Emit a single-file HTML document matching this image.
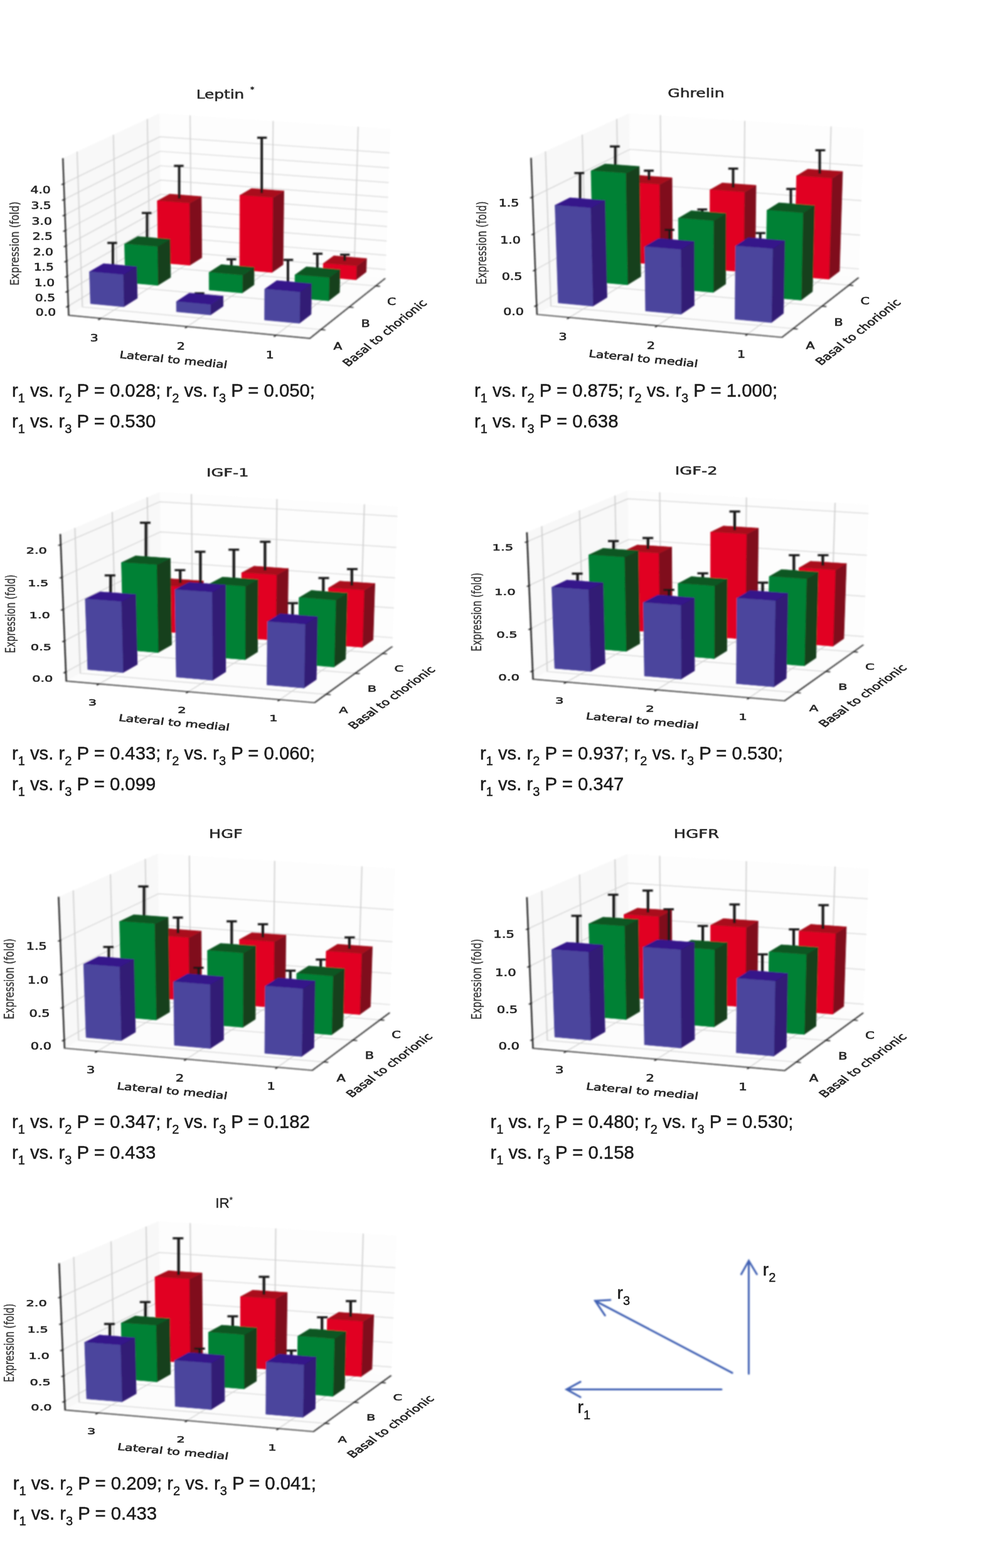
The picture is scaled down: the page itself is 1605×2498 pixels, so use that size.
<!DOCTYPE html>
<html lang="en">
<head>
<meta charset="utf-8">
<title>Placental gene expression figure</title>
<style>
html,body{margin:0;padding:0;background:#fff;}
body{width:1605px;height:2498px;overflow:hidden;position:relative;font-family:"Liberation Sans",sans-serif;}
svg{position:absolute;left:0;top:0;display:block;}
.pane polygon{stroke:none;}
.grid polyline{fill:none;stroke:#d2d2d2;stroke-width:1.2;}
.axis polyline{fill:none;stroke:#262626;stroke-width:1.5;}
.tick polyline{stroke-width:1.6;}
.bars polygon{stroke-width:0.6;stroke-linejoin:round;}
.err path{fill:none;stroke:#141414;stroke-width:2.5;}
.err path.c{stroke-width:3.3;}
.txt text{font-family:"DejaVu Sans","Liberation Sans",sans-serif;fill:#262626;stroke:#262626;stroke-width:0.62;text-anchor:middle;}
.cap text{font-family:"Liberation Sans",sans-serif;fill:#1a1a1a;}
.arrow path{fill:none;stroke:#4262b4;stroke-width:3;stroke-linecap:round;stroke-linejoin:miter;}
.txt text.ttl{stroke-width:0.5;fill:#262626;stroke:#262626;}
.txt text.ttlp{font-family:"Liberation Sans",sans-serif;stroke-width:0.3;text-anchor:start;fill:#222;stroke:#222;}
.cap text{stroke:#1a1a1a;stroke-width:0.45;}
.txt text.zl{fill:#3a3a3a;stroke:#3a3a3a;stroke-width:0.3;}

</style>
</head>
<body>
<svg width="1605" height="2498" viewBox="0 0 1605 2498">
<defs><filter id="soft" x="-5%" y="-5%" width="110%" height="110%"><feGaussianBlur stdDeviation="0.9"/></filter><filter id="softa" x="-5%" y="-5%" width="110%" height="110%"><feGaussianBlur stdDeviation="0.8"/></filter><filter id="softt" x="-5%" y="-5%" width="110%" height="110%"><feGaussianBlur stdDeviation="0.7"/></filter></defs>
<rect width="1605" height="2498" fill="#fff"/>
<!-- leptin -->
<g filter="url(#soft)"><g transform="translate(368.8 0) scale(1.5409 1)">
<g class="pane">
<polygon fill="#f8f8f8" points="-168.3,502.3 -72,412.5 -74.4,180.6 -174.3,252.1"/>
<polygon fill="#fdfdfd" points="-72,412.5 159.2,443.4 164.6,205.2 -74.4,180.6"/>
<polygon fill="#fcfcfc" points="-168.3,502.3 81.1,539.1 159.2,443.4 -72,412.5"/>
</g>
<g class="grid">
<polyline points="46.1,533.9 126.9,439.1 131.1,201.7"/>
<polyline points="-45.6,520.4 41.8,427.8 43.2,192.7"/>
<polyline points="-135.2,507.2 -41.3,416.6 -42.7,183.8"/>
<polyline points="92.6,525 -154.1,489.1 -159.6,241.6"/>
<polyline points="121.9,489.2 -118.1,455.5 -122.1,214.8"/>
<polyline points="149.4,455.5 -84.2,423.9 -87,189.6"/>
<polyline points="-168.6,487.5 -72.2,398.8 159.5,429.3"/>
<polyline points="-169.2,463.7 -72.4,376.6 160.1,406.6"/>
<polyline points="-169.8,439.7 -72.6,354.4 160.6,383.8"/>
<polyline points="-170.4,415.6 -72.9,332 161.1,360.8"/>
<polyline points="-170.9,391.3 -73.1,309.5 161.6,337.6"/>
<polyline points="-171.5,366.9 -73.3,286.8 162.1,314.4"/>
<polyline points="-172.1,342.3 -73.5,264 162.7,290.9"/>
<polyline points="-172.7,317.5 -73.8,241 163.2,267.3"/>
<polyline points="-173.3,292.5 -74,217.9 163.7,243.6"/>
</g>
</g></g>
<g filter="url(#softa)"><g transform="translate(368.8 0) scale(1.5409 1)">
<g class="axis">
<polyline points="-174.3,252.1 -168.3,502.3 81.1,539.1 159.2,443.4"/>
<g class="tick">
<polyline points="46.5,533.5 44,536.4"/>
<polyline points="-45.3,520 -47.9,522.8"/>
<polyline points="-134.8,506.8 -137.7,509.6"/>
<polyline points="91.8,524.9 97.2,525.7"/>
<polyline points="121.1,489.1 126.3,489.8"/>
<polyline points="148.6,455.4 153.7,456.1"/>
<polyline points="-167.8,486.7 -170.9,489.6"/>
<polyline points="-168.4,462.9 -171.5,465.8"/>
<polyline points="-168.9,439 -172.1,441.8"/>
<polyline points="-169.5,414.9 -172.7,417.6"/>
<polyline points="-170.1,390.6 -173.3,393.3"/>
<polyline points="-170.7,366.2 -173.9,368.8"/>
<polyline points="-171.3,341.6 -174.5,344.1"/>
<polyline points="-171.9,316.8 -175.1,319.3"/>
<polyline points="-172.5,291.8 -175.7,294.3"/>
</g></g>
</g></g>
<g filter="url(#soft)"><g transform="translate(368.8 0) scale(1.5409 1)">
<g class="bars">
<polygon fill="#800c1c" stroke="#800c1c" points="-43,422.5 -30.6,410.6 -31.1,313.2 -43.6,324.1"/><polygon fill="#a90f1e" stroke="#a90f1e" points="-76.6,320.1 -43.6,324.1 -31.1,313.2 -63.8,309.2"/><polygon fill="#e10421" stroke="#e10421" points="-75.6,418.2 -43,422.5 -43.6,324.1 -76.6,320.1"/>
<polygon fill="#800c1c" stroke="#800c1c" points="42,434 53.4,421.7 54.3,304.2 42.7,315.2"/><polygon fill="#a90f1e" stroke="#a90f1e" points="8.8,311.2 42.7,315.2 54.3,304.2 20.8,300.3"/><polygon fill="#e10421" stroke="#e10421" points="8.6,429.5 42,434 42.7,315.2 8.8,311.2"/>
<polygon fill="#800c1c" stroke="#800c1c" points="128.9,445.7 139.4,433.2 139.8,411.9 129.3,424.2"/><polygon fill="#a90f1e" stroke="#a90f1e" points="95.1,419.7 129.3,424.2 139.8,411.9 106,407.5"/><polygon fill="#e10421" stroke="#e10421" points="94.8,441.1 128.9,445.7 129.3,424.2 95.1,419.7"/>
<g class="err"><path d="M-54 316.4V263.8"/><path class="c" d="M-59.4 264.2h10"/><path d="M31.4 307.5V219"/><path class="c" d="M26.7 219.4h10"/><path d="M117.2 415.6V405.4"/><path class="c" d="M112.4 405.8h10"/><path d="M-87.2 384.7V338.9"/><path class="c" d="M-92.7 339.3h10"/><path d="M0 429.8V412.7"/><path class="c" d="M-5 413.1h10"/><path d="M88.9 433.6V403.8"/><path class="c" d="M84.3 404.2h10"/><path d="M-122.6 428.6V386.6"/><path class="c" d="M-128.3 387h10"/><path d="M-32.9 475.9V466.9"/><path class="c" d="M-38 467.3h10"/><path d="M58.5 456V413.6"/><path class="c" d="M53.9 414h10"/></g>
<polygon fill="#143f1b" stroke="#143f1b" points="-76.1,454.6 -62.9,441.9 -63.5,381.2 -76.7,393.2"/><polygon fill="#0c5724" stroke="#0c5724" points="-110.5,388.8 -76.7,393.2 -63.5,381.2 -96.9,376.8"/><polygon fill="#068135" stroke="#068135" points="-109.6,449.9 -76.1,454.6 -76.7,393.2 -110.5,388.8"/>
<polygon fill="#143f1b" stroke="#143f1b" points="11.2,466.7 23.4,453.7 23.5,426 11.3,438.8"/><polygon fill="#0c5724" stroke="#0c5724" points="-23.1,434.1 11.3,438.8 23.5,426 -10.5,421.5"/><polygon fill="#068135" stroke="#068135" points="-23,462 11.2,466.7 11.3,438.8 -23.1,434.1"/>
<polygon fill="#143f1b" stroke="#143f1b" points="100.6,479.2 111.8,465.9 112.4,429.7 101.1,442.6"/><polygon fill="#0c5724" stroke="#0c5724" points="65.8,437.9 101.1,442.6 112.4,429.7 77.5,425.1"/><polygon fill="#068135" stroke="#068135" points="65.5,474.3 100.6,479.2 101.1,442.6 65.8,437.9"/>
<polygon fill="#321a75" stroke="#321a75" points="-111.3,488.7 -97.3,475.1 -98,424.8 -112.1,437.8"/><polygon fill="#34158a" stroke="#34158a" points="-146.8,433 -112.1,437.8 -98,424.8 -132.3,420.1"/><polygon fill="#4b459d" stroke="#4b459d" points="-145.7,483.7 -111.3,488.7 -112.1,437.8 -146.8,433"/>
<polygon fill="#321a75" stroke="#321a75" points="-21.6,501.7 -8.5,487.8 -8.6,471.8 -21.6,485.5"/><polygon fill="#34158a" stroke="#34158a" points="-56.9,480.5 -21.6,485.5 -8.6,471.8 -43.5,466.9"/><polygon fill="#4b459d" stroke="#4b459d" points="-56.8,496.6 -21.6,501.7 -21.6,485.5 -56.9,480.5"/>
<polygon fill="#321a75" stroke="#321a75" points="70.4,515 82.4,500.7 82.9,451.9 70.9,465.6"/><polygon fill="#34158a" stroke="#34158a" points="34.5,460.6 70.9,465.6 82.9,451.9 47,447"/><polygon fill="#4b459d" stroke="#4b459d" points="34.3,509.8 70.4,515 70.9,465.6 34.5,460.6"/>
</g>
</g></g>
<g class="txt" filter="url(#softt)">
<text transform="translate(430.1 565.4) scale(1.276 1)" y="5.8" font-size="15.9">1</text>
<text transform="translate(288.4 551.5) scale(1.276 1)" y="5.8" font-size="15.9">2</text>
<text transform="translate(150.1 537.8) scale(1.276 1)" y="5.8" font-size="15.9">3</text>
<text transform="translate(538.4 551.4) scale(1.276 1)" y="5.8" font-size="15.9">A</text>
<text transform="translate(582.7 514.7) scale(1.276 1)" y="5.8" font-size="15.9">B</text>
<text transform="translate(624.1 480.3) scale(1.276 1)" y="5.8" font-size="15.9">C</text>
<text transform="translate(72.9 497.6) scale(1.276 1)" y="5.8" font-size="15.9">0.0</text>
<text transform="translate(71.9 473.7) scale(1.276 1)" y="5.8" font-size="15.9">0.5</text>
<text transform="translate(70.9 449.7) scale(1.276 1)" y="5.8" font-size="15.9">1.0</text>
<text transform="translate(69.8 425.5) scale(1.276 1)" y="5.8" font-size="15.9">1.5</text>
<text transform="translate(68.8 401.1) scale(1.276 1)" y="5.8" font-size="15.9">2.0</text>
<text transform="translate(67.8 376.6) scale(1.276 1)" y="5.8" font-size="15.9">2.5</text>
<text transform="translate(66.7 351.9) scale(1.276 1)" y="5.8" font-size="15.9">3.0</text>
<text transform="translate(65.6 327) scale(1.276 1)" y="5.8" font-size="15.9">3.5</text>
<text transform="translate(64.6 301.9) scale(1.276 1)" y="5.8" font-size="15.9">4.0</text>
<text transform="translate(276.6 572.7) scale(1.276 1) rotate(7)" y="5.8" font-size="15.9">Lateral to medial</text>
<text transform="translate(612.9 530.2) scale(1.276 1) rotate(-45.4)" y="5.8" font-size="15.9">Basal to chorionic</text>
<text transform="translate(22.8 387.9) scale(1.276 1) rotate(-90)" y="5.8" font-size="15.9" class="zl">Expression (fold)</text>
<text transform="translate(351 157.2) scale(1.276 1)" y="0" font-size="19.4" class="ttl">Leptin</text>
<text transform="translate(402.1 146.2) scale(1.276 1)" y="0" font-size="9.7" class="ttl">*</text>
</g>
<!-- ghrelin -->
<g filter="url(#soft)"><g transform="translate(1119.3 0) scale(1.5719 1)">
<g class="pane">
<polygon fill="#f8f8f8" points="-167.6,500.9 -71.8,411.4 -74.1,180.4 -173.6,251.6"/>
<polygon fill="#fdfdfd" points="-71.8,411.4 158.6,442.2 164,204.9 -74.1,180.4"/>
<polygon fill="#fcfcfc" points="-167.6,500.9 80.8,537.5 158.6,442.2 -71.8,411.4"/>
</g>
<g class="grid">
<polyline points="45.9,532.4 126.4,437.9 130.6,201.4"/>
<polyline points="-45.5,518.9 41.7,426.6 43.1,192.4"/>
<polyline points="-134.7,505.7 -41.1,415.5 -42.5,183.6"/>
<polyline points="92.2,523.5 -153.5,487.7 -159,241.2"/>
<polyline points="121.4,487.8 -117.6,454.2 -121.7,214.4"/>
<polyline points="148.8,454.3 -83.9,422.8 -86.7,189.4"/>
<polyline points="-168,486.5 -71.9,398.1 158.9,428.5"/>
<polyline points="-169.3,429.9 -72.4,345.5 160.1,374.6"/>
<polyline points="-170.7,372.4 -73,292.1 161.4,319.7"/>
<polyline points="-172.1,313.9 -73.5,238 162.6,264.1"/>
</g>
</g></g>
<g filter="url(#softa)"><g transform="translate(1119.3 0) scale(1.5719 1)">
<g class="axis">
<polyline points="-173.6,251.6 -167.6,500.9 80.8,537.5 158.6,442.2"/>
<g class="tick">
<polyline points="46.3,532 43.8,534.8"/>
<polyline points="-45.1,518.5 -47.8,521.3"/>
<polyline points="-134.3,505.3 -137.1,508.1"/>
<polyline points="91.5,523.4 96.8,524.2"/>
<polyline points="120.7,487.7 125.9,488.4"/>
<polyline points="148.1,454.2 153.1,454.9"/>
<polyline points="-167.1,485.7 -170.3,488.6"/>
<polyline points="-168.5,429.2 -171.6,431.9"/>
<polyline points="-169.9,371.7 -173.1,374.3"/>
<polyline points="-171.3,313.2 -174.5,315.7"/>
</g></g>
</g></g>
<g filter="url(#soft)"><g transform="translate(1119.3 0) scale(1.5719 1)">
<g class="bars">
<polygon fill="#800c1c" stroke="#800c1c" points="-42.8,421.8 -30.2,409.6 -30.7,283.3 -43.6,294.2"/><polygon fill="#a90f1e" stroke="#a90f1e" points="-77.5,290.2 -43.6,294.2 -30.7,283.3 -64.3,279.4"/><polygon fill="#e10421" stroke="#e10421" points="-76.1,417.3 -42.8,421.8 -43.6,294.2 -77.5,290.2"/>
<polygon fill="#800c1c" stroke="#800c1c" points="41.8,433.2 53.5,420.7 54.5,295.3 42.6,306.5"/><polygon fill="#a90f1e" stroke="#a90f1e" points="7.9,302.4 42.6,306.5 54.5,295.3 20.2,291.4"/><polygon fill="#e10421" stroke="#e10421" points="7.7,428.6 41.8,433.2 42.6,306.5 7.9,302.4"/>
<polygon fill="#800c1c" stroke="#800c1c" points="128.4,444.8 139.1,432 142.3,273.3 131.3,284.4"/><polygon fill="#a90f1e" stroke="#a90f1e" points="95.6,280.3 131.3,284.4 142.3,273.3 107,269.4"/><polygon fill="#e10421" stroke="#e10421" points="93.5,440.1 128.4,444.8 131.3,284.4 95.6,280.3"/>
<g class="err"><path d="M-54 286.8V271.5"/><path class="c" d="M-59.2 271.9h10"/><path d="M31.3 298.9V268.2"/><path class="c" d="M26.4 268.6h10"/><path d="M119.1 276.8V239"/><path class="c" d="M114.7 239.4h10"/><path d="M-88.2 268.7V232.9"/><path class="c" d="M-93.7 233.3h10"/><path d="M0 343.9V333.3"/><path class="c" d="M-5 333.7h10"/><path d="M89.8 331.3V300.6"/><path class="c" d="M85.2 301h10"/><path d="M-123.9 323.3V275.3"/><path class="c" d="M-129.7 275.7h10"/><path d="M-33.2 388.8V365.8"/><path class="c" d="M-38.3 366.2h10"/><path d="M58.8 387.6V370.9"/><path class="c" d="M54 371.3h10"/></g>
<polygon fill="#143f1b" stroke="#143f1b" points="-75.8,453.7 -62.4,440.7 -63.9,265.2 -77.7,276.3"/><polygon fill="#0c5724" stroke="#0c5724" points="-112.8,272.2 -77.7,276.3 -63.9,265.2 -98.6,261.2"/><polygon fill="#068135" stroke="#068135" points="-110,448.9 -75.8,453.7 -77.7,276.3 -112.8,272.2"/>
<polygon fill="#143f1b" stroke="#143f1b" points="11.2,465.8 23.7,452.5 24,340.1 11.4,352.1"/><polygon fill="#0c5724" stroke="#0c5724" points="-24.2,347.7 11.4,352.1 24,340.1 -11.2,335.7"/><polygon fill="#068135" stroke="#068135" points="-23.8,460.9 11.2,465.8 11.4,352.1 -24.2,347.7"/>
<polygon fill="#143f1b" stroke="#143f1b" points="100.2,478.2 111.7,464.6 113.8,327.5 102.1,339.5"/><polygon fill="#0c5724" stroke="#0c5724" points="65.6,335.1 102.1,339.5 113.8,327.5 77.7,323.1"/><polygon fill="#068135" stroke="#068135" points="64.3,473.2 100.2,478.2 102.1,339.5 65.6,335.1"/>
<polygon fill="#321a75" stroke="#321a75" points="-110.9,487.7 -96.6,473.8 -98.7,319.4 -113.4,331.5"/><polygon fill="#34158a" stroke="#34158a" points="-149.3,327.1 -113.4,331.5 -98.7,319.4 -134.2,315.1"/><polygon fill="#4b459d" stroke="#4b459d" points="-146,482.6 -110.9,487.7 -113.4,331.5 -149.3,327.1"/>
<polygon fill="#321a75" stroke="#321a75" points="-21.5,500.6 -8.2,486.4 -8.3,384.6 -21.8,397.7"/><polygon fill="#34158a" stroke="#34158a" points="-58.3,392.9 -21.8,397.7 -8.3,384.6 -44.4,380"/><polygon fill="#4b459d" stroke="#4b459d" points="-57.5,495.4 -21.5,500.6 -21.8,397.7 -58.3,392.9"/>
<polygon fill="#321a75" stroke="#321a75" points="70.1,513.9 82.3,499.3 83.7,383.4 71.3,396.6"/><polygon fill="#34158a" stroke="#34158a" points="33.8,391.8 71.3,396.6 83.7,383.4 46.7,378.7"/><polygon fill="#4b459d" stroke="#4b459d" points="33.2,508.5 70.1,513.9 71.3,396.6 33.8,391.8"/>
</g>
</g></g>
<g class="txt" filter="url(#softt)">
<text transform="translate(1181.5 563.7) scale(1.302 1)" y="5.8" font-size="15.8">1</text>
<text transform="translate(1037.6 549.8) scale(1.302 1)" y="5.8" font-size="15.8">2</text>
<text transform="translate(897 536.2) scale(1.302 1)" y="5.8" font-size="15.8">3</text>
<text transform="translate(1291.6 549.7) scale(1.302 1)" y="5.8" font-size="15.8">A</text>
<text transform="translate(1336.6 513.2) scale(1.302 1)" y="5.8" font-size="15.8">B</text>
<text transform="translate(1378.7 478.9) scale(1.302 1)" y="5.8" font-size="15.8">C</text>
<text transform="translate(818.6 496.6) scale(1.302 1)" y="5.8" font-size="15.8">0.0</text>
<text transform="translate(816.1 439.8) scale(1.302 1)" y="5.8" font-size="15.8">0.5</text>
<text transform="translate(813.6 382.1) scale(1.302 1)" y="5.8" font-size="15.8">1.0</text>
<text transform="translate(811.1 323.4) scale(1.302 1)" y="5.8" font-size="15.8">1.5</text>
<text transform="translate(1025.6 571) scale(1.302 1) rotate(7)" y="5.8" font-size="15.8">Lateral to medial</text>
<text transform="translate(1367.3 528.7) scale(1.302 1) rotate(-45.4)" y="5.8" font-size="15.8">Basal to chorionic</text>
<text transform="translate(767.7 386.9) scale(1.302 1) rotate(-90)" y="5.8" font-size="15.8" class="zl">Expression (fold)</text>
<text transform="translate(1109.4 154.5) scale(1.302 1)" y="0" font-size="19.3" class="ttl">Ghrelin</text>
</g>
<!-- igf1 -->
<g filter="url(#soft)"><g transform="translate(372.7 0) scale(1.6958 1)">
<g class="pane">
<polygon fill="#f8f8f8" points="-157.5,1085 -67.4,1000.9 -69.6,783.8 -163.1,850.8"/>
<polygon fill="#fdfdfd" points="-67.4,1000.9 149,1029.9 154.1,806.8 -69.6,783.8"/>
<polygon fill="#fcfcfc" points="-157.5,1085 75.9,1119.4 149,1029.9 -67.4,1000.9"/>
</g>
<g class="grid">
<polyline points="43.2,1114.6 118.7,1025.8 122.7,803.6"/>
<polyline points="-42.7,1101.9 39.2,1015.2 40.5,795.1"/>
<polyline points="-126.6,1089.5 -38.7,1004.8 -39.9,786.9"/>
<polyline points="86.7,1106.2 -144.3,1072.6 -149.4,840.9"/>
<polyline points="114.1,1072.6 -110.5,1041.1 -114.3,815.8"/>
<polyline points="139.8,1041.2 -78.8,1011.6 -81.4,792.3"/>
<polyline points="-157.8,1070.4 -67.6,987.4 149.3,1016"/>
<polyline points="-159,1020.8 -68,941.3 150.4,968.7"/>
<polyline points="-160.3,970.5 -68.5,894.6 151.5,920.7"/>
<polyline points="-161.5,919.4 -69,847.3 152.6,872.1"/>
<polyline points="-162.7,867.5 -69.5,799.3 153.7,822.7"/>
</g>
</g></g>
<g filter="url(#softa)"><g transform="translate(372.7 0) scale(1.6958 1)">
<g class="axis">
<polyline points="-163.1,850.8 -157.5,1085 75.9,1119.4 149,1029.9"/>
<g class="tick">
<polyline points="43.5,1114.2 41.2,1116.9"/>
<polyline points="-42.4,1101.5 -44.9,1104.2"/>
<polyline points="-126.2,1089.1 -128.9,1091.7"/>
<polyline points="86,1106.1 91,1106.8"/>
<polyline points="113.4,1072.6 118.3,1073.2"/>
<polyline points="139.1,1041.1 143.9,1041.7"/>
<polyline points="-157.1,1069.7 -160,1072.4"/>
<polyline points="-158.2,1020.1 -161.2,1022.7"/>
<polyline points="-159.5,969.8 -162.5,972.3"/>
<polyline points="-160.7,918.8 -163.7,921.1"/>
<polyline points="-161.9,866.9 -165,869.1"/>
</g></g>
</g></g>
<g filter="url(#soft)"><g transform="translate(372.7 0) scale(1.6958 1)">
<g class="bars">
<polygon fill="#800c1c" stroke="#800c1c" points="-40.2,1009.6 -28.4,998.2 -28.7,925.5 -40.7,936.2"/><polygon fill="#a90f1e" stroke="#a90f1e" points="-72.4,932.3 -40.7,936.2 -28.7,925.5 -60,921.7"/><polygon fill="#e10421" stroke="#e10421" points="-71.6,1005.4 -40.2,1009.6 -40.7,936.2 -72.4,932.3"/>
<polygon fill="#800c1c" stroke="#800c1c" points="39.3,1020.3 50.3,1008.6 51.1,905.7 39.9,916.3"/><polygon fill="#a90f1e" stroke="#a90f1e" points="7.4,912.4 39.9,916.3 51.1,905.7 18.9,901.9"/><polygon fill="#e10421" stroke="#e10421" points="7.3,1016 39.3,1020.3 39.9,916.3 7.4,912.4"/>
<polygon fill="#800c1c" stroke="#800c1c" points="120.6,1031.3 130.8,1019.3 132.5,929.6 122.3,940.6"/><polygon fill="#a90f1e" stroke="#a90f1e" points="89.1,936.6 122.3,940.6 132.5,929.6 99.7,925.7"/><polygon fill="#e10421" stroke="#e10421" points="87.9,1026.9 120.6,1031.3 122.3,940.6 89.1,936.6"/>
<g class="err"><path d="M-50.4 928.9V907.9"/><path class="c" d="M-55.6 908.3h10"/><path d="M29.3 909V862.7"/><path class="c" d="M24.5 863.1h10"/><path d="M110.9 933.1V906.2"/><path class="c" d="M106.3 906.6h10"/><path d="M-82.6 892.8V832.4"/><path class="c" d="M-88.3 832.8h10"/><path d="M0 926.7V875.3"/><path class="c" d="M-5 875.7h10"/><path d="M84.1 948.4V920.5"/><path class="c" d="M79.5 920.9h10"/><path d="M-115.8 950.6V916.3"/><path class="c" d="M-121.4 916.7h10"/><path d="M-31.4 935.6V878.6"/><path class="c" d="M-36.7 879h10"/><path d="M55.2 986.2V960.5"/><path class="c" d="M50.4 960.9h10"/></g>
<polygon fill="#143f1b" stroke="#143f1b" points="-71.2,1039.6 -58.6,1027.4 -59.8,889.4 -72.7,900.1"/><polygon fill="#0c5724" stroke="#0c5724" points="-105.6,896.2 -72.7,900.1 -59.8,889.4 -92.3,885.6"/><polygon fill="#068135" stroke="#068135" points="-103.4,1035.1 -71.2,1039.6 -72.7,900.1 -105.6,896.2"/>
<polygon fill="#143f1b" stroke="#143f1b" points="10.5,1051 22.2,1038.5 22.6,923.2 10.7,934.4"/><polygon fill="#0c5724" stroke="#0c5724" points="-22.8,930.3 10.7,934.4 22.6,923.2 -10.5,919.2"/><polygon fill="#068135" stroke="#068135" points="-22.4,1046.4 10.5,1051 10.7,934.4 -22.8,930.3"/>
<polygon fill="#143f1b" stroke="#143f1b" points="94.1,1062.6 104.9,1049.9 106.6,944.7 95.7,956.4"/><polygon fill="#0c5724" stroke="#0c5724" points="61.4,952.1 95.7,956.4 106.6,944.7 72.8,940.6"/><polygon fill="#068135" stroke="#068135" points="60.5,1057.9 94.1,1062.6 95.7,956.4 61.4,952.1"/>
<polygon fill="#321a75" stroke="#321a75" points="-104.2,1071.5 -90.8,1058.5 -92.3,946.9 -106,958.6"/><polygon fill="#34158a" stroke="#34158a" points="-139.6,954.3 -106,958.6 -92.3,946.9 -125.5,942.7"/><polygon fill="#4b459d" stroke="#4b459d" points="-137.2,1066.7 -104.2,1071.5 -106,958.6 -139.6,954.3"/>
<polygon fill="#321a75" stroke="#321a75" points="-20.2,1083.7 -7.7,1070.3 -7.8,931.9 -20.6,943.6"/><polygon fill="#34158a" stroke="#34158a" points="-55.2,939.3 -20.6,943.6 -7.8,931.9 -42,927.7"/><polygon fill="#4b459d" stroke="#4b459d" points="-54,1078.8 -20.2,1083.7 -20.6,943.6 -55.2,939.3"/>
<polygon fill="#321a75" stroke="#321a75" points="65.9,1096.1 77.4,1082.5 78.6,982.3 66.9,994.8"/><polygon fill="#34158a" stroke="#34158a" points="31.7,990.2 66.9,994.8 78.6,982.3 43.8,977.8"/><polygon fill="#4b459d" stroke="#4b459d" points="31.2,1091.1 65.9,1096.1 66.9,994.8 31.7,990.2"/>
</g>
</g></g>
<g class="txt" filter="url(#softt)">
<text transform="translate(435.8 1144) scale(1.404 1)" y="5.4" font-size="14.9">1</text>
<text transform="translate(289.9 1130.9) scale(1.404 1)" y="5.4" font-size="14.9">2</text>
<text transform="translate(147.4 1118.2) scale(1.404 1)" y="5.4" font-size="14.9">3</text>
<text transform="translate(547.5 1130.8) scale(1.404 1)" y="5.4" font-size="14.9">A</text>
<text transform="translate(593 1096.5) scale(1.404 1)" y="5.4" font-size="14.9">B</text>
<text transform="translate(635.7 1064.3) scale(1.404 1)" y="5.4" font-size="14.9">C</text>
<text transform="translate(67.8 1080.2) scale(1.404 1)" y="5.4" font-size="14.9">0.0</text>
<text transform="translate(65.5 1030.5) scale(1.404 1)" y="5.4" font-size="14.9">0.5</text>
<text transform="translate(63.2 980) scale(1.404 1)" y="5.4" font-size="14.9">1.0</text>
<text transform="translate(60.8 928.7) scale(1.404 1)" y="5.4" font-size="14.9">1.5</text>
<text transform="translate(58.3 876.6) scale(1.404 1)" y="5.4" font-size="14.9">2.0</text>
<text transform="translate(277.7 1150.9) scale(1.404 1) rotate(7)" y="5.4" font-size="14.9">Lateral to medial</text>
<text transform="translate(624.1 1111.1) scale(1.404 1) rotate(-45.4)" y="5.4" font-size="14.9">Basal to chorionic</text>
<text transform="translate(16.3 977.9) scale(1.404 1) rotate(-90)" y="5.4" font-size="14.9" class="zl">Expression (fold)</text>
<text transform="translate(362.7 759.2) scale(1.404 1)" y="0" font-size="18.2" class="ttl">IGF-1</text>
</g>
<!-- igf2 -->
<g filter="url(#soft)"><g transform="translate(1120.1 0) scale(1.7188 1)">
<g class="pane">
<polygon fill="#f8f8f8" points="-157.4,1082.1 -67.4,998.1 -69.6,781.1 -163.1,848.1"/>
<polygon fill="#fdfdfd" points="-67.4,998.1 149,1027.1 154,804.1 -69.6,781.1"/>
<polygon fill="#fcfcfc" points="-157.4,1082.1 75.9,1116.5 149,1027.1 -67.4,998.1"/>
</g>
<g class="grid">
<polyline points="43.1,1111.7 118.7,1023 122.7,800.9"/>
<polyline points="-42.7,1099 39.1,1012.4 40.5,792.4"/>
<polyline points="-126.5,1086.7 -38.6,1002 -39.9,784.2"/>
<polyline points="86.6,1103.4 -144.2,1069.8 -149.3,838.2"/>
<polyline points="114,1069.8 -110.5,1038.3 -114.3,813.1"/>
<polyline points="139.7,1038.4 -78.8,1008.8 -81.4,789.6"/>
<polyline points="-157.7,1068.6 -67.5,985.6 149.3,1014.2"/>
<polyline points="-159.4,1001.4 -68.2,923.1 150.7,950.1"/>
<polyline points="-161,932.8 -68.8,859.5 152.2,884.7"/>
<polyline points="-162.7,862.7 -69.5,794.7 153.7,818.1"/>
</g>
</g></g>
<g filter="url(#softa)"><g transform="translate(1120.1 0) scale(1.7188 1)">
<g class="axis">
<polyline points="-163.1,848.1 -157.4,1082.1 75.9,1116.5 149,1027.1"/>
<g class="tick">
<polyline points="43.5,1111.3 41.1,1114"/>
<polyline points="-42.3,1098.7 -44.8,1101.3"/>
<polyline points="-126.1,1086.3 -128.8,1088.9"/>
<polyline points="85.9,1103.3 90.9,1104"/>
<polyline points="113.3,1069.7 118.2,1070.4"/>
<polyline points="139.1,1038.3 143.8,1038.9"/>
<polyline points="-157,1067.9 -159.9,1070.6"/>
<polyline points="-158.6,1000.7 -161.6,1003.3"/>
<polyline points="-160.2,932.1 -163.2,934.5"/>
<polyline points="-161.9,862.1 -165,864.3"/>
</g></g>
</g></g>
<g filter="url(#soft)"><g transform="translate(1120.1 0) scale(1.7188 1)">
<g class="bars">
<polygon fill="#800c1c" stroke="#800c1c" points="-40.2,1007.8 -28.4,996.3 -28.9,871.6 -41,881.7"/><polygon fill="#a90f1e" stroke="#a90f1e" points="-72.9,878 -41,881.7 -28.9,871.6 -60.5,868"/><polygon fill="#e10421" stroke="#e10421" points="-71.5,1003.6 -40.2,1007.8 -41,881.7 -72.9,878"/>
<polygon fill="#800c1c" stroke="#800c1c" points="39.3,1018.5 50.3,1006.8 51.5,841.4 40.3,851.3"/><polygon fill="#a90f1e" stroke="#a90f1e" points="7.4,847.7 40.3,851.3 51.5,841.4 19.1,837.9"/><polygon fill="#e10421" stroke="#e10421" points="7.3,1014.2 39.3,1018.5 40.3,851.3 7.4,847.7"/>
<polygon fill="#800c1c" stroke="#800c1c" points="120.6,1029.5 130.7,1017.4 133.1,897.8 122.8,908.5"/><polygon fill="#a90f1e" stroke="#a90f1e" points="89.4,904.6 122.8,908.5 133.1,897.8 100.1,894"/><polygon fill="#e10421" stroke="#e10421" points="87.8,1025 120.6,1029.5 122.8,908.5 89.4,904.6"/>
<g class="err"><path d="M-50.8 874.8V856.7"/><path class="c" d="M-55.9 857.1h10"/><path d="M29.6 844.5V814.5"/><path class="c" d="M24.7 814.9h10"/><path d="M111.3 901.2V884.1"/><path class="c" d="M106.6 884.5h10"/><path d="M-82.7 880.7V861.6"/><path class="c" d="M-87.9 862h10"/><path d="M0 926V913"/><path class="c" d="M-5 913.4h10"/><path d="M84.5 914.9V884.1"/><path class="c" d="M79.8 884.5h10"/><path d="M-116.1 931.8V913.5"/><path class="c" d="M-121.4 913.9h10"/><path d="M-31.3 956V939.3"/><path class="c" d="M-36.4 939.7h10"/><path d="M55.5 949V927.8"/><path class="c" d="M50.7 928.2h10"/></g>
<polygon fill="#143f1b" stroke="#143f1b" points="-71.2,1037.8 -58.6,1025.6 -59.9,877.4 -72.8,888"/><polygon fill="#0c5724" stroke="#0c5724" points="-105.6,884.1 -72.8,888 -59.9,877.4 -92.4,873.6"/><polygon fill="#068135" stroke="#068135" points="-103.3,1033.3 -71.2,1037.8 -72.8,888 -105.6,884.1"/>
<polygon fill="#143f1b" stroke="#143f1b" points="10.5,1049.2 22.2,1036.7 22.6,922.5 10.7,933.7"/><polygon fill="#0c5724" stroke="#0c5724" points="-22.8,929.6 10.7,933.7 22.6,922.5 -10.5,918.5"/><polygon fill="#068135" stroke="#068135" points="-22.4,1044.6 10.5,1049.2 10.7,933.7 -22.8,929.6"/>
<polygon fill="#143f1b" stroke="#143f1b" points="94.1,1060.8 104.9,1048 107,911.4 96.1,922.6"/><polygon fill="#0c5724" stroke="#0c5724" points="61.7,918.5 96.1,922.6 107,911.4 73.1,907.3"/><polygon fill="#068135" stroke="#068135" points="60.4,1056.1 94.1,1060.8 96.1,922.6 61.7,918.5"/>
<polygon fill="#321a75" stroke="#321a75" points="-104.1,1069.7 -90.7,1056.7 -92.5,928.2 -106.2,939.7"/><polygon fill="#34158a" stroke="#34158a" points="-139.9,935.5 -106.2,939.7 -92.5,928.2 -125.8,924"/><polygon fill="#4b459d" stroke="#4b459d" points="-137.2,1064.9 -104.1,1069.7 -106.2,939.7 -139.9,935.5"/>
<polygon fill="#321a75" stroke="#321a75" points="-20.2,1081.9 -7.7,1068.5 -7.8,952.2 -20.5,964.2"/><polygon fill="#34158a" stroke="#34158a" points="-55,959.8 -20.5,964.2 -7.8,952.2 -41.8,947.9"/><polygon fill="#4b459d" stroke="#4b459d" points="-54,1077 -20.2,1081.9 -20.5,964.2 -55,959.8"/>
<polygon fill="#321a75" stroke="#321a75" points="65.8,1094.3 77.3,1080.7 78.9,945.1 67.2,957.2"/><polygon fill="#34158a" stroke="#34158a" points="31.8,952.8 67.2,957.2 78.9,945.1 44,940.8"/><polygon fill="#4b459d" stroke="#4b459d" points="31.2,1089.3 65.8,1094.3 67.2,957.2 31.8,952.8"/>
</g>
</g></g>
<g class="txt" filter="url(#softt)">
<text transform="translate(1184 1141.1) scale(1.423 1)" y="5.4" font-size="14.9">1</text>
<text transform="translate(1036.1 1128.1) scale(1.423 1)" y="5.4" font-size="14.9">2</text>
<text transform="translate(891.8 1115.3) scale(1.423 1)" y="5.4" font-size="14.9">3</text>
<text transform="translate(1297.1 1128) scale(1.423 1)" y="5.4" font-size="14.9">A</text>
<text transform="translate(1343.2 1093.6) scale(1.423 1)" y="5.4" font-size="14.9">B</text>
<text transform="translate(1386.5 1061.4) scale(1.423 1)" y="5.4" font-size="14.9">C</text>
<text transform="translate(811.2 1078.4) scale(1.423 1)" y="5.4" font-size="14.9">0.0</text>
<text transform="translate(808 1011) scale(1.423 1)" y="5.4" font-size="14.9">0.5</text>
<text transform="translate(804.8 942.1) scale(1.423 1)" y="5.4" font-size="14.9">1.0</text>
<text transform="translate(801.4 871.8) scale(1.423 1)" y="5.4" font-size="14.9">1.5</text>
<text transform="translate(1023.8 1148) scale(1.423 1) rotate(7)" y="5.4" font-size="14.9">Lateral to medial</text>
<text transform="translate(1374.8 1108.2) scale(1.423 1) rotate(-45.4)" y="5.4" font-size="14.9">Basal to chorionic</text>
<text transform="translate(759 975.1) scale(1.423 1) rotate(-90)" y="5.4" font-size="14.9" class="zl">Expression (fold)</text>
<text transform="translate(1109.7 756.2) scale(1.423 1)" y="0" font-size="18.1" class="ttl">IGF-2</text>
</g>
<!-- hgf -->
<g filter="url(#soft)"><g transform="translate(369.3 0) scale(1.6423 1)">
<g class="pane">
<polygon fill="#f8f8f8" points="-162.2,1669.9 -69.4,1583.4 -71.7,1359.8 -168,1428.8"/>
<polygon fill="#fdfdfd" points="-69.4,1583.4 153.4,1613.2 158.6,1383.5 -71.7,1359.8"/>
<polygon fill="#fcfcfc" points="-162.2,1669.9 78.2,1705.3 153.4,1613.2 -69.4,1583.4"/>
</g>
<g class="grid">
<polyline points="44.4,1700.4 122.2,1609 126.4,1380.2"/>
<polyline points="-44,1687.3 40.3,1598 41.7,1371.5"/>
<polyline points="-130.3,1674.6 -39.8,1587.3 -41.1,1363"/>
<polyline points="89.2,1691.8 -148.5,1657.2 -153.8,1418.6"/>
<polyline points="117.5,1657.2 -113.8,1624.8 -117.7,1392.8"/>
<polyline points="143.9,1624.8 -81.2,1594.3 -83.9,1368.5"/>
<polyline points="-162.5,1656.6 -69.5,1571 153.7,1600.5"/>
<polyline points="-163.7,1604.5 -70,1522.6 154.9,1550.8"/>
<polyline points="-165,1551.6 -70.5,1473.6 156,1500.4"/>
<polyline points="-166.3,1497.9 -71,1423.8 157.1,1449.3"/>
</g>
</g></g>
<g filter="url(#softa)"><g transform="translate(369.3 0) scale(1.6423 1)">
<g class="axis">
<polyline points="-168,1428.8 -162.2,1669.9 78.2,1705.3 153.4,1613.2"/>
<g class="tick">
<polyline points="44.8,1700 42.4,1702.8"/>
<polyline points="-43.6,1686.9 -46.2,1689.7"/>
<polyline points="-129.9,1674.2 -132.7,1676.9"/>
<polyline points="88.5,1691.7 93.7,1692.4"/>
<polyline points="116.7,1657.1 121.8,1657.8"/>
<polyline points="143.2,1624.7 148.1,1625.4"/>
<polyline points="-161.7,1655.9 -164.7,1658.7"/>
<polyline points="-162.9,1603.8 -166,1606.5"/>
<polyline points="-164.2,1550.9 -167.3,1553.5"/>
<polyline points="-165.5,1497.3 -168.6,1499.7"/>
</g></g>
</g></g>
<g filter="url(#soft)"><g transform="translate(369.3 0) scale(1.6423 1)">
<g class="bars">
<polygon fill="#800c1c" stroke="#800c1c" points="-41.4,1594 -29.2,1582.1 -29.6,1483.4 -42,1494.2"/><polygon fill="#a90f1e" stroke="#a90f1e" points="-74.7,1490.2 -42,1494.2 -29.6,1483.4 -62,1479.5"/><polygon fill="#e10421" stroke="#e10421" points="-73.7,1589.6 -41.4,1594 -42,1494.2 -74.7,1490.2"/>
<polygon fill="#800c1c" stroke="#800c1c" points="40.4,1605 51.8,1592.9 52.6,1489.8 41.1,1500.8"/><polygon fill="#a90f1e" stroke="#a90f1e" points="7.6,1496.8 41.1,1500.8 52.6,1489.8 19.5,1485.9"/><polygon fill="#e10421" stroke="#e10421" points="7.5,1600.5 40.4,1605 41.1,1500.8 7.6,1496.8"/>
<polygon fill="#800c1c" stroke="#800c1c" points="124.2,1616.3 134.6,1603.9 136.5,1508.3 125.9,1519.7"/><polygon fill="#a90f1e" stroke="#a90f1e" points="91.7,1515.5 125.9,1519.7 136.5,1508.3 102.7,1504.3"/><polygon fill="#e10421" stroke="#e10421" points="90.5,1611.7 124.2,1616.3 125.9,1519.7 91.7,1515.5"/>
<g class="err"><path d="M-52.1 1486.8V1461.4"/><path class="c" d="M-57.3 1461.8h10"/><path d="M30.2 1493.3V1472"/><path class="c" d="M25.3 1472.4h10"/><path d="M114.2 1511.9V1493"/><path class="c" d="M109.5 1493.4h10"/><path d="M-85.1 1464.6V1411.8"/><path class="c" d="M-90.8 1412.2h10"/><path d="M0 1510.7V1467.4"/><path class="c" d="M-5 1467.8h10"/><path d="M86.4 1547V1528.3"/><path class="c" d="M81.6 1528.7h10"/><path d="M-119.3 1532.3V1508.2"/><path class="c" d="M-124.7 1508.6h10"/><path d="M-32.1 1560.1V1541.4"/><path class="c" d="M-37.2 1541.8h10"/><path d="M56.9 1566.7V1546"/><path class="c" d="M52 1546.4h10"/></g>
<polygon fill="#143f1b" stroke="#143f1b" points="-73.3,1624.9 -60.3,1612.3 -61.7,1461.2 -75,1472.1"/><polygon fill="#0c5724" stroke="#0c5724" points="-108.8,1468.1 -75,1472.1 -61.7,1461.2 -95.1,1457.3"/><polygon fill="#068135" stroke="#068135" points="-106.4,1620.2 -73.3,1624.9 -75,1472.1 -108.8,1468.1"/>
<polygon fill="#143f1b" stroke="#143f1b" points="10.8,1636.6 22.9,1623.7 23.3,1507.1 11,1518.7"/><polygon fill="#0c5724" stroke="#0c5724" points="-23.5,1514.4 11,1518.7 23.3,1507.1 -10.8,1502.9"/><polygon fill="#068135" stroke="#068135" points="-23.1,1631.9 10.8,1636.6 11,1518.7 -23.5,1514.4"/>
<polygon fill="#143f1b" stroke="#143f1b" points="96.9,1648.6 108,1635.4 109.5,1543.2 98.2,1555.4"/><polygon fill="#0c5724" stroke="#0c5724" points="63.1,1550.9 98.2,1555.4 109.5,1543.2 74.7,1538.9"/><polygon fill="#068135" stroke="#068135" points="62.2,1643.8 96.9,1648.6 98.2,1555.4 63.1,1550.9"/>
<polygon fill="#321a75" stroke="#321a75" points="-107.3,1657.8 -93.4,1644.3 -95,1528.4 -109.1,1540.5"/><polygon fill="#34158a" stroke="#34158a" points="-143.7,1536.1 -109.1,1540.5 -95,1528.4 -129.2,1524.1"/><polygon fill="#4b459d" stroke="#4b459d" points="-141.3,1652.8 -107.3,1657.8 -109.1,1540.5 -143.7,1536.1"/>
<polygon fill="#321a75" stroke="#321a75" points="-20.8,1670.3 -7.9,1656.5 -8,1556.1 -21.1,1568.7"/><polygon fill="#34158a" stroke="#34158a" points="-56.4,1564.1 -21.1,1568.7 -8,1556.1 -43,1551.6"/><polygon fill="#4b459d" stroke="#4b459d" points="-55.6,1665.2 -20.8,1670.3 -21.1,1568.7 -56.4,1564.1"/>
<polygon fill="#321a75" stroke="#321a75" points="67.8,1683.1 79.7,1669 80.9,1562.7 68.9,1575.5"/><polygon fill="#34158a" stroke="#34158a" points="32.6,1570.8 68.9,1575.5 80.9,1562.7 45.1,1558.1"/><polygon fill="#4b459d" stroke="#4b459d" points="32.1,1677.9 67.8,1683.1 68.9,1575.5 32.6,1570.8"/>
</g>
</g></g>
<g class="txt" filter="url(#softt)">
<text transform="translate(432.2 1730.7) scale(1.360 1)" y="5.6" font-size="15.3">1</text>
<text transform="translate(286.7 1717.2) scale(1.360 1)" y="5.6" font-size="15.3">2</text>
<text transform="translate(144.7 1704.1) scale(1.360 1)" y="5.6" font-size="15.3">3</text>
<text transform="translate(543.5 1717.1) scale(1.360 1)" y="5.6" font-size="15.3">A</text>
<text transform="translate(588.9 1681.8) scale(1.360 1)" y="5.6" font-size="15.3">B</text>
<text transform="translate(631.5 1648.6) scale(1.360 1)" y="5.6" font-size="15.3">C</text>
<text transform="translate(65.4 1666.6) scale(1.360 1)" y="5.6" font-size="15.3">0.0</text>
<text transform="translate(63 1614.3) scale(1.360 1)" y="5.6" font-size="15.3">0.5</text>
<text transform="translate(60.6 1561.2) scale(1.360 1)" y="5.6" font-size="15.3">1.0</text>
<text transform="translate(58.2 1507.3) scale(1.360 1)" y="5.6" font-size="15.3">1.5</text>
<text transform="translate(274.6 1737.7) scale(1.360 1) rotate(7)" y="5.6" font-size="15.3">Lateral to medial</text>
<text transform="translate(620 1696.8) scale(1.360 1) rotate(-45.4)" y="5.6" font-size="15.3">Basal to chorionic</text>
<text transform="translate(13.9 1559.6) scale(1.360 1) rotate(-90)" y="5.6" font-size="15.3" class="zl">Expression (fold)</text>
<text transform="translate(359.8 1334.5) scale(1.360 1)" y="0" font-size="18.7" class="ttl">HGF</text>
</g>
<!-- hgfr -->
<g filter="url(#soft)"><g transform="translate(1120.1 0) scale(1.6696 1)">
<g class="pane">
<polygon fill="#f8f8f8" points="-162.1,1670.1 -69.4,1583.7 -71.6,1360.3 -167.9,1429.2"/>
<polygon fill="#fdfdfd" points="-69.4,1583.7 153.3,1613.5 158.5,1384 -71.6,1360.3"/>
<polygon fill="#fcfcfc" points="-162.1,1670.1 78.1,1705.6 153.3,1613.5 -69.4,1583.7"/>
</g>
<g class="grid">
<polyline points="44.4,1700.6 122.2,1609.3 126.3,1380.6"/>
<polyline points="-44,1687.6 40.3,1598.3 41.6,1371.9"/>
<polyline points="-130.2,1674.8 -39.8,1587.6 -41.1,1363.4"/>
<polyline points="89.2,1692 -148.4,1657.4 -153.7,1419"/>
<polyline points="117.4,1657.5 -113.7,1625.1 -117.6,1393.2"/>
<polyline points="143.8,1625.1 -81.1,1594.6 -83.8,1369"/>
<polyline points="-162.4,1655.9 -69.5,1570.4 153.7,1599.9"/>
<polyline points="-163.8,1598.1 -70.1,1516.8 154.9,1544.8"/>
<polyline points="-165.2,1539.3 -70.6,1462.2 156.2,1488.7"/>
<polyline points="-166.6,1479.5 -71.2,1406.8 157.5,1431.8"/>
</g>
</g></g>
<g filter="url(#softa)"><g transform="translate(1120.1 0) scale(1.6696 1)">
<g class="axis">
<polyline points="-167.9,1429.2 -162.1,1670.1 78.1,1705.6 153.3,1613.5"/>
<g class="tick">
<polyline points="44.7,1700.2 42.4,1703"/>
<polyline points="-43.6,1687.2 -46.2,1689.9"/>
<polyline points="-129.8,1674.5 -132.6,1677.1"/>
<polyline points="88.4,1691.9 93.6,1692.7"/>
<polyline points="116.7,1657.4 121.7,1658.1"/>
<polyline points="143.1,1625 148,1625.7"/>
<polyline points="-161.6,1655.2 -164.6,1658"/>
<polyline points="-163,1597.4 -166,1600.1"/>
<polyline points="-164.4,1538.6 -167.5,1541.2"/>
<polyline points="-165.8,1478.9 -168.9,1481.2"/>
</g></g>
</g></g>
<g filter="url(#soft)"><g transform="translate(1120.1 0) scale(1.6696 1)">
<g class="bars">
<polygon fill="#800c1c" stroke="#800c1c" points="-41.4,1593.3 -29.2,1581.5 -29.8,1450.4 -42.2,1460.8"/><polygon fill="#a90f1e" stroke="#a90f1e" points="-75.1,1457 -42.2,1460.8 -29.8,1450.4 -62.3,1446.7"/><polygon fill="#e10421" stroke="#e10421" points="-73.6,1589 -41.4,1593.3 -42.2,1460.8 -75.1,1457"/>
<polygon fill="#800c1c" stroke="#800c1c" points="40.4,1604.4 51.8,1592.3 52.7,1467.2 41.2,1477.9"/><polygon fill="#a90f1e" stroke="#a90f1e" points="7.6,1474 41.2,1477.9 52.7,1467.2 19.5,1463.4"/><polygon fill="#e10421" stroke="#e10421" points="7.5,1599.9 40.4,1604.4 41.2,1477.9 7.6,1474"/>
<polygon fill="#800c1c" stroke="#800c1c" points="124.1,1615.6 134.5,1603.3 137,1476.6 126.5,1487.5"/><polygon fill="#a90f1e" stroke="#a90f1e" points="92.1,1483.5 126.5,1487.5 137,1476.6 103.1,1472.6"/><polygon fill="#e10421" stroke="#e10421" points="90.4,1611.1 124.1,1615.6 126.5,1487.5 92.1,1483.5"/>
<g class="err"><path d="M-52.3 1453.7V1418.4"/><path class="c" d="M-57.6 1418.8h10"/><path d="M30.2 1470.6V1440.5"/><path class="c" d="M25.4 1440.9h10"/><path d="M114.7 1480V1441.6"/><path class="c" d="M110.3 1442h10"/><path d="M-85 1468.3V1425"/><path class="c" d="M-90.6 1425.4h10"/><path d="M0 1505.4V1474.7"/><path class="c" d="M-5 1475.1h10"/><path d="M86.8 1512.9V1480.2"/><path class="c" d="M82.2 1480.6h10"/><path d="M-119.6 1508.9V1458.6"/><path class="c" d="M-125.5 1459h10"/><path d="M-32.4 1505.1V1448.2"/><path class="c" d="M-37.6 1448.6h10"/><path d="M56.9 1554.6V1520"/><path class="c" d="M52.2 1520.4h10"/></g>
<polygon fill="#143f1b" stroke="#143f1b" points="-73.3,1624.2 -60.3,1611.6 -61.6,1464.9 -74.9,1475.8"/><polygon fill="#0c5724" stroke="#0c5724" points="-108.7,1471.8 -74.9,1475.8 -61.6,1464.9 -95,1461"/><polygon fill="#068135" stroke="#068135" points="-106.3,1619.6 -73.3,1624.2 -74.9,1475.8 -108.7,1471.8"/>
<polygon fill="#143f1b" stroke="#143f1b" points="10.8,1635.9 22.9,1623.1 23.3,1501.8 11,1513.3"/><polygon fill="#0c5724" stroke="#0c5724" points="-23.5,1509.1 11,1513.3 23.3,1501.8 -10.8,1497.7"/><polygon fill="#068135" stroke="#068135" points="-23.1,1631.2 10.8,1635.9 11,1513.3 -23.5,1509.1"/>
<polygon fill="#143f1b" stroke="#143f1b" points="96.8,1647.9 108,1634.7 110,1509.2 98.7,1520.9"/><polygon fill="#0c5724" stroke="#0c5724" points="63.4,1516.6 98.7,1520.9 110,1509.2 75.1,1505"/><polygon fill="#068135" stroke="#068135" points="62.2,1643.1 96.8,1647.9 98.7,1520.9 63.4,1516.6"/>
<polygon fill="#321a75" stroke="#321a75" points="-107.2,1657.1 -93.4,1643.7 -95.3,1505.2 -109.4,1517"/><polygon fill="#34158a" stroke="#34158a" points="-144.1,1512.7 -109.4,1517 -95.3,1505.2 -129.6,1501"/><polygon fill="#4b459d" stroke="#4b459d" points="-141.2,1652.1 -107.2,1657.1 -109.4,1517 -144.1,1512.7"/>
<polygon fill="#321a75" stroke="#321a75" points="-20.8,1669.6 -7.9,1655.8 -8.1,1501.3 -21.3,1513.3"/><polygon fill="#34158a" stroke="#34158a" points="-56.9,1508.9 -21.3,1513.3 -8.1,1501.3 -43.3,1497.1"/><polygon fill="#4b459d" stroke="#4b459d" points="-55.6,1664.5 -20.8,1669.6 -21.3,1513.3 -56.9,1508.9"/>
<polygon fill="#321a75" stroke="#321a75" points="67.8,1682.4 79.6,1668.3 81,1550.6 69,1563.3"/><polygon fill="#34158a" stroke="#34158a" points="32.7,1558.6 69,1563.3 81,1550.6 45.1,1546"/><polygon fill="#4b459d" stroke="#4b459d" points="32.1,1677.2 67.8,1682.4 69,1563.3 32.7,1558.6"/>
</g>
</g></g>
<g class="txt" filter="url(#softt)">
<text transform="translate(1184 1730.9) scale(1.382 1)" y="5.6" font-size="15.3">1</text>
<text transform="translate(1036.1 1717.4) scale(1.382 1)" y="5.6" font-size="15.3">2</text>
<text transform="translate(891.8 1704.3) scale(1.382 1)" y="5.6" font-size="15.3">3</text>
<text transform="translate(1297.1 1717.4) scale(1.382 1)" y="5.6" font-size="15.3">A</text>
<text transform="translate(1343.2 1682) scale(1.382 1)" y="5.6" font-size="15.3">B</text>
<text transform="translate(1386.5 1648.9) scale(1.382 1)" y="5.6" font-size="15.3">C</text>
<text transform="translate(811.2 1665.9) scale(1.382 1)" y="5.6" font-size="15.3">0.0</text>
<text transform="translate(808.5 1607.9) scale(1.382 1)" y="5.6" font-size="15.3">0.5</text>
<text transform="translate(805.8 1548.9) scale(1.382 1)" y="5.6" font-size="15.3">1.0</text>
<text transform="translate(803.1 1488.8) scale(1.382 1)" y="5.6" font-size="15.3">1.5</text>
<text transform="translate(1023.8 1738) scale(1.382 1) rotate(7)" y="5.6" font-size="15.3">Lateral to medial</text>
<text transform="translate(1374.8 1697) scale(1.382 1) rotate(-45.4)" y="5.6" font-size="15.3">Basal to chorionic</text>
<text transform="translate(759 1560) scale(1.382 1) rotate(-90)" y="5.6" font-size="15.3" class="zl">Expression (fold)</text>
<text transform="translate(1110 1334.5) scale(1.382 1)" y="0" font-size="18.7" class="ttl">HGFR</text>
</g>
<!-- ir -->
<g filter="url(#soft)"><g transform="translate(370.9 0) scale(1.6983 1)">
<g class="pane">
<polygon fill="#f8f8f8" points="-157.3,2246.3 -67.3,2162.4 -69.5,1945.6 -162.9,2012.4"/>
<polygon fill="#fdfdfd" points="-67.3,2162.4 148.8,2191.3 153.9,1968.6 -69.5,1945.6"/>
<polygon fill="#fcfcfc" points="-157.3,2246.3 75.8,2280.7 148.8,2191.3 -67.3,2162.4"/>
</g>
<g class="grid">
<polyline points="43.1,2275.8 118.6,2187.2 122.5,1965.3"/>
<polyline points="-42.7,2263.2 39.1,2176.6 40.4,1956.9"/>
<polyline points="-126.4,2250.8 -38.6,2166.2 -39.9,1948.6"/>
<polyline points="86.5,2267.5 -144.1,2234 -149.2,2002.6"/>
<polyline points="113.9,2234 -110.4,2202.5 -114.2,1977.5"/>
<polyline points="139.6,2202.6 -78.7,2173 -81.3,1954"/>
<polyline points="-157.6,2232.2 -67.5,2149.3 149.1,2177.8"/>
<polyline points="-158.6,2191.5 -67.8,2111.4 150,2139"/>
<polyline points="-159.6,2150.2 -68.2,2073.2 150.9,2099.7"/>
<polyline points="-160.6,2108.5 -68.6,2034.5 151.8,2059.9"/>
<polyline points="-161.6,2066.2 -69,1995.3 152.7,2019.7"/>
</g>
</g></g>
<g filter="url(#softa)"><g transform="translate(370.9 0) scale(1.6983 1)">
<g class="axis">
<polyline points="-162.9,2012.4 -157.3,2246.3 75.8,2280.7 148.8,2191.3"/>
<g class="tick">
<polyline points="43.4,2275.5 41.1,2278.2"/>
<polyline points="-42.3,2262.8 -44.8,2265.5"/>
<polyline points="-126,2250.5 -128.7,2253.1"/>
<polyline points="85.8,2267.4 90.8,2268.1"/>
<polyline points="113.2,2233.9 118.1,2234.6"/>
<polyline points="138.9,2202.5 143.6,2203.1"/>
<polyline points="-156.8,2231.5 -159.8,2234.2"/>
<polyline points="-157.8,2190.8 -160.8,2193.4"/>
<polyline points="-158.8,2149.6 -161.8,2152.1"/>
<polyline points="-159.8,2107.8 -162.8,2110.3"/>
<polyline points="-160.8,2065.6 -163.8,2067.9"/>
</g></g>
</g></g>
<g filter="url(#soft)"><g transform="translate(370.9 0) scale(1.6983 1)">
<g class="bars">
<polygon fill="#800c1c" stroke="#800c1c" points="-40.2,2171.5 -28.3,2160 -28.9,2028 -41,2038.1"/><polygon fill="#a90f1e" stroke="#a90f1e" points="-72.9,2034.4 -41,2038.1 -28.9,2028 -60.5,2024.4"/><polygon fill="#e10421" stroke="#e10421" points="-71.5,2167.3 -40.2,2171.5 -41,2038.1 -72.9,2034.4"/>
<polygon fill="#800c1c" stroke="#800c1c" points="39.2,2182.2 50.2,2170.5 51.1,2059 39.9,2069.6"/><polygon fill="#a90f1e" stroke="#a90f1e" points="7.4,2065.7 39.9,2069.6 51.1,2059 18.9,2055.3"/><polygon fill="#e10421" stroke="#e10421" points="7.3,2177.9 39.2,2182.2 39.9,2069.6 7.4,2065.7"/>
<polygon fill="#800c1c" stroke="#800c1c" points="120.4,2193.1 130.6,2181.1 132.3,2094.5 122,2105.6"/><polygon fill="#a90f1e" stroke="#a90f1e" points="88.9,2101.5 122,2105.6 132.3,2094.5 99.5,2090.6"/><polygon fill="#e10421" stroke="#e10421" points="87.7,2188.7 120.4,2193.1 122,2105.6 88.9,2101.5"/>
<g class="err"><path d="M-50.8 2031.2V1972.3"/><path class="c" d="M-56.3 1972.7h10"/><path d="M29.3 2062.4V2033.7"/><path class="c" d="M24.4 2034.1h10"/><path d="M110.7 2098V2072.4"/><path class="c" d="M106.1 2072.8h10"/><path d="M-81.9 2104.1V2073.9"/><path class="c" d="M-87.2 2074.3h10"/><path d="M0 2118.8V2096.6"/><path class="c" d="M-5 2097h10"/><path d="M83.8 2125V2098.2"/><path class="c" d="M79.1 2098.6h10"/><path d="M-115.3 2134.8V2108.8"/><path class="c" d="M-120.7 2109.2h10"/><path d="M-31.1 2163.3V2148.1"/><path class="c" d="M-36.1 2148.5h10"/><path d="M55 2165.9V2151.2"/><path class="c" d="M50.1 2151.6h10"/></g>
<polygon fill="#143f1b" stroke="#143f1b" points="-71.1,2201.4 -58.5,2189.2 -59.3,2100.6 -72.1,2111.8"/><polygon fill="#0c5724" stroke="#0c5724" points="-104.6,2107.7 -72.1,2111.8 -59.3,2100.6 -91.5,2096.6"/><polygon fill="#068135" stroke="#068135" points="-103.2,2197 -71.1,2201.4 -72.1,2111.8 -104.6,2107.7"/>
<polygon fill="#143f1b" stroke="#143f1b" points="10.5,2212.8 22.2,2200.3 22.5,2115.2 10.6,2126.7"/><polygon fill="#0c5724" stroke="#0c5724" points="-22.7,2122.5 10.6,2126.7 22.5,2115.2 -10.4,2111.1"/><polygon fill="#068135" stroke="#068135" points="-22.4,2208.2 10.5,2212.8 10.6,2126.7 -22.7,2122.5"/>
<polygon fill="#143f1b" stroke="#143f1b" points="94,2224.4 104.8,2211.7 106.2,2121.3 95.3,2133"/><polygon fill="#0c5724" stroke="#0c5724" points="61.2,2128.7 95.3,2133 106.2,2121.3 72.5,2117"/><polygon fill="#068135" stroke="#068135" points="60.4,2219.8 94,2224.4 95.3,2133 61.2,2128.7"/>
<polygon fill="#321a75" stroke="#321a75" points="-104,2233.3 -90.6,2220.3 -91.9,2131 -105.5,2143"/><polygon fill="#34158a" stroke="#34158a" points="-138.9,2138.6 -105.5,2143 -91.9,2131 -124.9,2126.7"/><polygon fill="#4b459d" stroke="#4b459d" points="-137,2228.6 -104,2233.3 -105.5,2143 -138.9,2138.6"/>
<polygon fill="#321a75" stroke="#321a75" points="-20.2,2245.4 -7.7,2232.1 -7.8,2159.4 -20.4,2171.9"/><polygon fill="#34158a" stroke="#34158a" points="-54.5,2167.3 -20.4,2171.9 -7.8,2159.4 -41.5,2154.9"/><polygon fill="#4b459d" stroke="#4b459d" points="-53.9,2240.6 -20.2,2245.4 -20.4,2171.9 -54.5,2167.3"/>
<polygon fill="#321a75" stroke="#321a75" points="65.8,2257.9 77.3,2244.2 78.2,2161.9 66.6,2174.6"/><polygon fill="#34158a" stroke="#34158a" points="31.5,2169.9 66.6,2174.6 78.2,2161.9 43.6,2157.3"/><polygon fill="#4b459d" stroke="#4b459d" points="31.2,2252.9 65.8,2257.9 66.6,2174.6 31.5,2169.9"/>
</g>
</g></g>
<g class="txt" filter="url(#softt)">
<text transform="translate(434 2305.2) scale(1.406 1)" y="5.4" font-size="14.9">1</text>
<text transform="translate(288.1 2292.2) scale(1.406 1)" y="5.4" font-size="14.9">2</text>
<text transform="translate(145.6 2279.4) scale(1.406 1)" y="5.4" font-size="14.9">3</text>
<text transform="translate(545.6 2292.1) scale(1.406 1)" y="5.4" font-size="14.9">A</text>
<text transform="translate(591.2 2257.8) scale(1.406 1)" y="5.4" font-size="14.9">B</text>
<text transform="translate(633.9 2225.6) scale(1.406 1)" y="5.4" font-size="14.9">C</text>
<text transform="translate(66 2242) scale(1.406 1)" y="5.4" font-size="14.9">0.0</text>
<text transform="translate(64.1 2201.2) scale(1.406 1)" y="5.4" font-size="14.9">0.5</text>
<text transform="translate(62.2 2159.8) scale(1.406 1)" y="5.4" font-size="14.9">1.0</text>
<text transform="translate(60.2 2117.9) scale(1.406 1)" y="5.4" font-size="14.9">1.5</text>
<text transform="translate(58.2 2075.5) scale(1.406 1)" y="5.4" font-size="14.9">2.0</text>
<text transform="translate(275.9 2312.1) scale(1.406 1) rotate(7)" y="5.4" font-size="14.9">Lateral to medial</text>
<text transform="translate(622.3 2272.4) scale(1.406 1) rotate(-45.4)" y="5.4" font-size="14.9">Basal to chorionic</text>
<text transform="translate(14.5 2139.4) scale(1.406 1) rotate(-90)" y="5.4" font-size="14.9" class="zl">Expression (fold)</text>
<text class="ttlp" x="343.2" y="1923.9" font-size="22.5">IR<tspan dy="-8" font-size="13">*</tspan></text>
</g>
<g class="cap">
<text x="18.9" y="632.0" font-size="29.3">r<tspan dy="8.8" font-size="20">1</tspan><tspan dy="-8.8"> vs. r</tspan><tspan dy="8.8" font-size="20">2</tspan><tspan dy="-8.8"> P = 0.028; r</tspan><tspan dy="8.8" font-size="20">2</tspan><tspan dy="-8.8"> vs. r</tspan><tspan dy="8.8" font-size="20">3</tspan><tspan dy="-8.8"> P = 0.050;</tspan></text>
<text x="18.9" y="681.1" font-size="29.3">r<tspan dy="8.8" font-size="20">1</tspan><tspan dy="-8.8"> vs. r</tspan><tspan dy="8.8" font-size="20">3</tspan><tspan dy="-8.8"> P = 0.530</tspan></text>
<text x="756.1" y="632.0" font-size="29.3">r<tspan dy="8.8" font-size="20">1</tspan><tspan dy="-8.8"> vs. r</tspan><tspan dy="8.8" font-size="20">2</tspan><tspan dy="-8.8"> P = 0.875; r</tspan><tspan dy="8.8" font-size="20">2</tspan><tspan dy="-8.8"> vs. r</tspan><tspan dy="8.8" font-size="20">3</tspan><tspan dy="-8.8"> P = 1.000;</tspan></text>
<text x="756.1" y="681.1" font-size="29.3">r<tspan dy="8.8" font-size="20">1</tspan><tspan dy="-8.8"> vs. r</tspan><tspan dy="8.8" font-size="20">3</tspan><tspan dy="-8.8"> P = 0.638</tspan></text>
<text x="18.9" y="1209.9" font-size="29.3">r<tspan dy="8.8" font-size="20">1</tspan><tspan dy="-8.8"> vs. r</tspan><tspan dy="8.8" font-size="20">2</tspan><tspan dy="-8.8"> P = 0.433; r</tspan><tspan dy="8.8" font-size="20">2</tspan><tspan dy="-8.8"> vs. r</tspan><tspan dy="8.8" font-size="20">3</tspan><tspan dy="-8.8"> P = 0.060;</tspan></text>
<text x="18.9" y="1259.0" font-size="29.3">r<tspan dy="8.8" font-size="20">1</tspan><tspan dy="-8.8"> vs. r</tspan><tspan dy="8.8" font-size="20">3</tspan><tspan dy="-8.8"> P = 0.099</tspan></text>
<text x="764.9" y="1209.9" font-size="29.3">r<tspan dy="8.8" font-size="20">1</tspan><tspan dy="-8.8"> vs. r</tspan><tspan dy="8.8" font-size="20">2</tspan><tspan dy="-8.8"> P = 0.937; r</tspan><tspan dy="8.8" font-size="20">2</tspan><tspan dy="-8.8"> vs. r</tspan><tspan dy="8.8" font-size="20">3</tspan><tspan dy="-8.8"> P = 0.530;</tspan></text>
<text x="764.9" y="1259.0" font-size="29.3">r<tspan dy="8.8" font-size="20">1</tspan><tspan dy="-8.8"> vs. r</tspan><tspan dy="8.8" font-size="20">3</tspan><tspan dy="-8.8"> P = 0.347</tspan></text>
<text x="18.9" y="1797.4" font-size="29.3">r<tspan dy="8.8" font-size="20">1</tspan><tspan dy="-8.8"> vs. r</tspan><tspan dy="8.8" font-size="20">2</tspan><tspan dy="-8.8"> P = 0.347; r</tspan><tspan dy="8.8" font-size="20">2</tspan><tspan dy="-8.8"> vs. r</tspan><tspan dy="8.8" font-size="20">3</tspan><tspan dy="-8.8"> P = 0.182</tspan></text>
<text x="18.9" y="1845.8" font-size="29.3">r<tspan dy="8.8" font-size="20">1</tspan><tspan dy="-8.8"> vs. r</tspan><tspan dy="8.8" font-size="20">3</tspan><tspan dy="-8.8"> P = 0.433</tspan></text>
<text x="781.4" y="1797.4" font-size="29.3">r<tspan dy="8.8" font-size="20">1</tspan><tspan dy="-8.8"> vs. r</tspan><tspan dy="8.8" font-size="20">2</tspan><tspan dy="-8.8"> P = 0.480; r</tspan><tspan dy="8.8" font-size="20">2</tspan><tspan dy="-8.8"> vs. r</tspan><tspan dy="8.8" font-size="20">3</tspan><tspan dy="-8.8"> P = 0.530;</tspan></text>
<text x="781.4" y="1845.8" font-size="29.3">r<tspan dy="8.8" font-size="20">1</tspan><tspan dy="-8.8"> vs. r</tspan><tspan dy="8.8" font-size="20">3</tspan><tspan dy="-8.8"> P = 0.158</tspan></text>
<text x="20.7" y="2372.9" font-size="29.3">r<tspan dy="8.8" font-size="20">1</tspan><tspan dy="-8.8"> vs. r</tspan><tspan dy="8.8" font-size="20">2</tspan><tspan dy="-8.8"> P = 0.209; r</tspan><tspan dy="8.8" font-size="20">2</tspan><tspan dy="-8.8"> vs. r</tspan><tspan dy="8.8" font-size="20">3</tspan><tspan dy="-8.8"> P = 0.041;</tspan></text>
<text x="20.7" y="2420.9" font-size="29.3">r<tspan dy="8.8" font-size="20">1</tspan><tspan dy="-8.8"> vs. r</tspan><tspan dy="8.8" font-size="20">3</tspan><tspan dy="-8.8"> P = 0.433</tspan></text>
<text x="1215.7" y="2032.0" font-size="28.5">r<tspan dy="10" font-size="20">2</tspan></text>
<text x="983.5" y="2069.2" font-size="28.5">r<tspan dy="10" font-size="20">3</tspan></text>
<text x="920.6" y="2250.6" font-size="28.5">r<tspan dy="10" font-size="20">1</tspan></text>
</g>
<g class="arrow" filter="url(#soft)">
<path d="M1193.4 2188.6V2008.6M1181.4 2030L1193.4 2008.6L1206.3 2030"/>
<path d="M1167.1 2187.1L948.6 2072.3M972.9 2070.9L948.6 2072.3L964.3 2095.7"/>
<path d="M1150 2213.4H902.9M925.1 2201.4L902.9 2213.4L925.1 2225.7"/>
</g>
</svg>
</body>
</html>
